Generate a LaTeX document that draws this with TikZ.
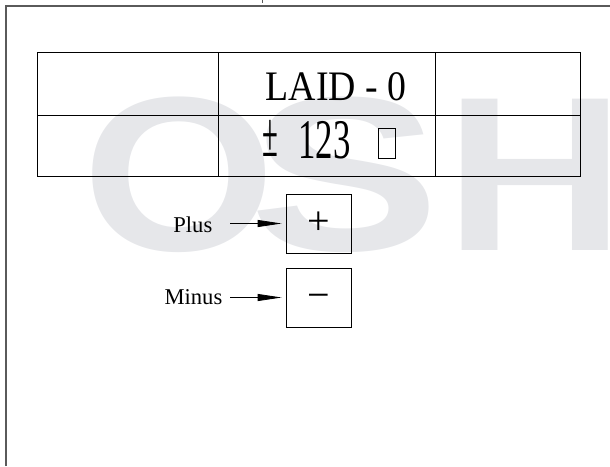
\documentclass[tikz,border=0pt]{standalone}
\usepackage{fontspec}
\setmainfont{Liberation Serif}
\newfontfamily\laidfont[FakeStretch=0.9]{Liberation Serif}
\newfontfamily\digitfont[FakeStretch=0.62]{Liberation Serif}
\newfontfamily\pmfont[FakeStretch=0.45]{Liberation Serif}
\newfontfamily\markfont{Liberation Sans}
\usetikzlibrary{arrows.meta}
\definecolor{wmgray}{RGB}{230,231,234}
\definecolor{framegray}{RGB}{90,90,90}

\begin{document}
\begin{tikzpicture}[
  x=1pt, y=-1pt,
  cell/.style={line width=1pt},
  keybox/.style={draw,line width=0.8pt,minimum width=65pt,minimum height=59pt,inner sep=0pt,font=\fontsize{40}{40}\selectfont},
  keylabel/.style={inner sep=0pt,anchor=base east,font=\fontsize{22.6}{24}\selectfont},
  wmark/.style={text=wmgray,inner sep=0pt,anchor=base,font=\markfont\bfseries\fontsize{220}{220}\selectfont},
  arr/.style={line width=0.8pt,-{Triangle[length=24pt,width=7pt]},shorten >=4pt}
]
  \useasboundingbox (0,0) rectangle (610,466);
  % watermark
  \node[wmark] (wmO) at (179,250) {\scalebox{1.13}[1]{O}};
  \node[wmark] (wmS) at (345,250) {\scalebox{1.3}[1]{S}};
  \node[wmark] (wmH) at (535,250) {\scalebox{1.13}[1]{H}};
  % frame
  \draw[framegray,line width=1.5pt] (6,466) -- (6,6) -- (610,6);
  \draw[framegray,line width=1pt] (262,0) -- (262,3);
  % display table
  \draw[cell] (37,52) rectangle (580,176);
  \draw[cell] (37,115) -- (580,115);
  \draw[cell] (218,52) -- (218,176);
  \draw[cell] (435,52) -- (435,176);
  \node[inner sep=0pt,anchor=base,font=\laidfont\fontsize{42}{42}\selectfont] (laid) at (336,100) {LAID - 0};
  \node[inner sep=0pt,anchor=base,font=\pmfont\fontsize{64}{64}\selectfont] (sign) at (270,156) {±};
  \node[inner sep=0pt,anchor=base,font=\digitfont\fontsize{56}{56}\selectfont] (num) at (324.5,158) {123};
  \node[draw,line width=0.7pt,minimum width=17pt,minimum height=30pt,inner sep=0pt] (unit) at (386.5,143) {};
  % keys
  \node[keybox] (plusbox) at (318.5,223.5) {+};
  \node[keybox] (minusbox) at (318.5,297.5) {\vphantom{+}−};
  \node[keylabel] (plus) at (212.5,232) {Plus};
  \node[keylabel] (minus) at (222.5,304) {Minus};
  \draw[arr,shorten <=17.5pt] (plus.east |- plusbox.west) -- (plusbox.west);
  \draw[arr,shorten <=7.5pt] (minus.east |- minusbox.west) -- (minusbox.west);
\end{tikzpicture}
\end{document}
